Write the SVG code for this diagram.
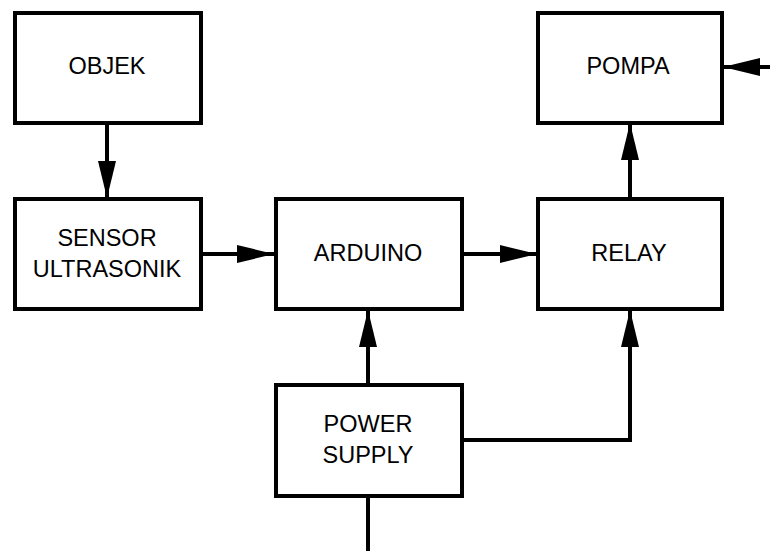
<svg xmlns="http://www.w3.org/2000/svg" width="770" height="551" viewBox="0 0 770 551">
<style>
.box{fill:#fff;stroke:#000;stroke-width:4}
.lbl{font-family:"Liberation Sans",Arial,sans-serif;font-size:23.5px;fill:#000;text-anchor:middle}
.wire{fill:none;stroke:#000;stroke-width:4}
</style>
<defs>
<marker id="ah" markerUnits="userSpaceOnUse" markerWidth="38" markerHeight="20" viewBox="0 0 38 20" refX="37" refY="10" orient="auto">
<path d="M0,1 L37,10 L0,19 z" fill="#000"/>
</marker>
</defs>
<g id="connectors">
<line class="wire" x1="107" y1="124" x2="107" y2="198" marker-end="url(#ah)"/>
<line class="wire" x1="201" y1="254" x2="274" y2="254" marker-end="url(#ah)"/>
<line class="wire" x1="463" y1="254" x2="537" y2="254" marker-end="url(#ah)"/>
<line class="wire" x1="630" y1="198" x2="630" y2="123" marker-end="url(#ah)"/>
<line class="wire" x1="772" y1="67" x2="723" y2="67" marker-end="url(#ah)"/>
<line class="wire" x1="368" y1="384" x2="368" y2="310" marker-end="url(#ah)"/>
<path class="wire" d="M462,440 H630 V310" marker-end="url(#ah)"/>
<line class="wire" x1="368" y1="497" x2="368" y2="553"/>
</g>
<g id="objek"><rect class="box" x="15" y="13" width="186" height="110"/><text class="lbl" x="107" y="74">OBJEK</text></g>
<g id="sensor"><rect class="box" x="15" y="199" width="186" height="110"/><text class="lbl" x="107" y="246">SENSOR</text><text class="lbl" x="107" y="277">ULTRASONIK</text></g>
<g id="arduino"><rect class="box" x="276" y="199" width="186" height="110"/><text class="lbl" x="368" y="261">ARDUINO</text></g>
<g id="relay"><rect class="box" x="538" y="199" width="184" height="110"/><text class="lbl" x="629" y="261">RELAY</text></g>
<g id="pompa"><rect class="box" x="538" y="13" width="184" height="110"/><text class="lbl" x="628" y="74">POMPA</text></g>
<g id="power"><rect class="box" x="276" y="385" width="186" height="111"/><text class="lbl" x="368" y="432">POWER</text><text class="lbl" x="368" y="463">SUPPLY</text></g>
</svg>
